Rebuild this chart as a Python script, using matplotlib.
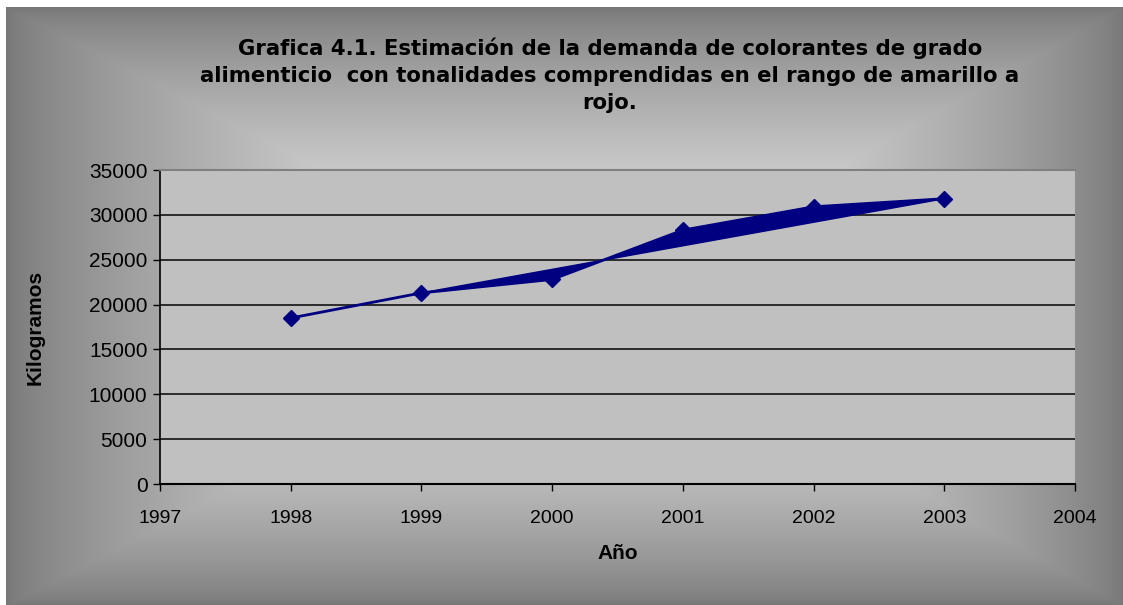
import matplotlib
matplotlib.use("Agg")
import matplotlib.pyplot as plt
import numpy as np

# data
years = [1998, 1999, 2000, 2001, 2002, 2003]
kilos = [18500, 21300, 22800, 28300, 30900, 31800]
yticks = [0, 5000, 10000, 15000, 20000, 25000, 30000, 35000]
xticks = [1997, 1998, 1999, 2000, 2001, 2002, 2003, 2004]

title = ("Grafica 4.1. Estimación de la demanda de colorantes de grado\n"
         "alimenticio  con tonalidades comprendidas en el rango de amarillo a\n"
         "rojo.")

W, H = 1123, 605
navy = "#000080"

fig = plt.figure(figsize=(W / 100, H / 100), dpi=100)

# background: rectangular gradient, light in the middle, dark grey on the edges
bg = fig.add_axes([0, 0, 1, 1], zorder=-10)
yy, xx = np.mgrid[0:H, 0:W]
cx, cy = 590.0, 305.0
dx = np.where(xx < cx, (cx - xx) / (cx - 6), (xx - cx) / (W - cx))
dy = np.where(yy < cy, (cy - yy) / (cy - 7), (yy - cy) / (H - cy))
t = np.clip(np.maximum(dx, dy), 0, 1)
shade = 0.47 + 0.5 * (1 - t) ** 0.75
img = np.dstack([shade, shade, shade])
img[:7, :, :] = 1.0
img[:, :6, :] = 1.0
bg.imshow(img, aspect="auto", interpolation="bilinear")
bg.axis("off")

ax = fig.add_axes([160 / W, 1 - 484 / H, (1075 - 160) / W, (484 - 170) / H])
ax.set_facecolor("#c0c0c0")

# filled band between the series and its closing chord, then the line itself
ax.fill(years[1:], kilos[1:], color=navy, zorder=3)
ax.plot(years, kilos, color=navy, lw=2, marker="D", ms=8.5, zorder=4)

ax.set_xlim(1997, 2004)
ax.set_ylim(0, 35000)
ax.set_xticks(xticks)
ax.set_yticks(yticks)
ax.set_xticklabels([str(v) for v in xticks], family="Liberation Sans", fontsize=14)
ax.set_yticklabels([str(v) for v in yticks], family="Liberation Sans", fontsize=15)
ax.tick_params(direction="out", length=5, width=1, color="black")
ax.tick_params(axis="x", pad=14)
ax.tick_params(axis="y", pad=4)
ax.yaxis.grid(True, color="#202020", lw=1.3)
ax.set_axisbelow(True)

ax.spines["right"].set_visible(False)
ax.spines["top"].set_color("#808080")
ax.spines["top"].set_linewidth(1.5)
ax.spines["left"].set_linewidth(1.2)
ax.spines["bottom"].set_linewidth(1.5)

ax.set_xlabel("Año", family="Liberation Sans", fontweight="bold", fontsize=15, labelpad=12)
ax.set_ylabel("Kilogramos", family="Liberation Sans", fontweight="bold", fontsize=15, labelpad=32)

fig.text(610 / W, 1 - 75 / H, title, ha="center", va="center", fontsize=15.3,
         fontweight="bold", family="DejaVu Sans", linespacing=1.43)

fig.savefig("out.png", dpi=100)
